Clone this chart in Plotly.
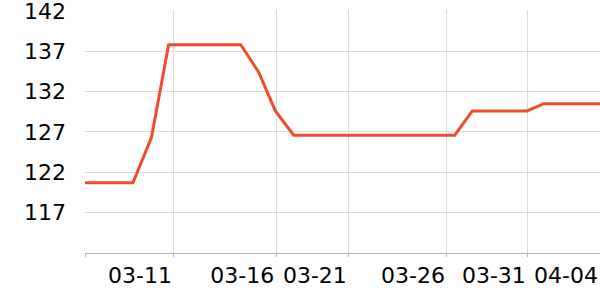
import plotly.graph_objects as go

# x positions in days from the left edge of the axis
x_days = [0, 2.70, 3.74, 4.71, 8.77, 9.78, 10.72, 11.75, 20.82, 21.81, 24.89, 25.84, 29]
prices = [120.7, 120.7, 126.3, 137.8, 137.8, 134.4, 129.6, 126.6, 126.6, 129.6, 129.6, 130.5, 130.5]

x_tick_vals = [0, 5.01, 10.77, 14.86, 20.38, 24.94, 29]
x_tick_text = ["", "03-11", "03-16", "03-21", "03-26", "03-31", "04-04"]
y_tick_vals = [117, 122, 127, 132, 137, 142]

fig = go.Figure()
fig.add_trace(go.Scatter(
    x=x_days, y=prices, mode="lines",
    line=dict(color="#ee4d2d", width=3),
    hoverinfo="skip", showlegend=False,
))

fig.update_layout(
    width=600, height=300,
    margin=dict(l=85, r=0, t=10, b=47, pad=0),
    paper_bgcolor="white", plot_bgcolor="white",
    font=dict(family="DejaVu Sans", size=22, color="#000"),
    showlegend=False,
)
fig.update_xaxes(
    range=[0, 29], tickmode="array", tickvals=x_tick_vals, ticktext=x_tick_text,
    showgrid=True, gridcolor="#dcdcdc", gridwidth=1,
    showline=True, linecolor="#b8b8b8", linewidth=1,
    ticks="outside", ticklen=3, tickcolor="#b8b8b8",
    ticklabelshift=-34, ticklabelstandoff=0, ticklabeloverflow="allow",
    zeroline=False,
)
fig.update_yaxes(
    range=[112, 142.1], tickmode="array", tickvals=y_tick_vals,
    showgrid=True, gridcolor="#dcdcdc", gridwidth=1,
    showline=False, ticks="", ticklabelstandoff=18, ticklabeloverflow="allow",
    zeroline=False,
)

fig.write_html("out.html")
